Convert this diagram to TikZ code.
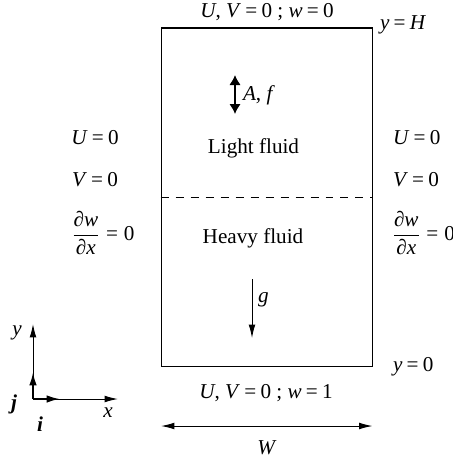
\documentclass[tikz,border=0pt]{standalone}
\usepackage{fontspec}
\setmainfont{Liberation Serif}
\usetikzlibrary{arrows.meta, positioning}
\newcommand{\mi}[1]{\textit{#1}}
\newcommand{\eqsp}{\hspace{0.2em}=\hspace{0.2em}}
\newcommand{\eqz}{\eqsp 0}
\newcommand{\dwdx}{$\displaystyle\frac{\mbox{\mi{∂w}}}{\mbox{\mi{∂x}}}$\;=\;0}
\tikzstyle{txt} = [font=\fontsize{12.7}{15}\selectfont, inner sep=1pt]
\tikzstyle{tank} = [rectangle, draw=black, line width=0.9pt, minimum width=126.9pt, minimum height=203.1pt, inner sep=0pt]
\tikzstyle{line} = [draw, line width=0.6pt, -{Latex[length=8pt, width=4pt]}]
\tikzstyle{unitvec} = [draw, line width=1.2pt, -{Latex[length=8pt, width=4.5pt]}]

\begin{document}
\begin{tikzpicture}[x=0.6pt, y=-0.6pt]
\useasboundingbox (0,0) rectangle (453,462);

% Tank
\node (tank) [tank] at (267,197.3) {};
\draw [line width=0.6pt, dash pattern=on 4.8pt off 4.2pt] (tank.west) -- (tank.east);

% Top and bottom walls
\node (topbc) [txt] at (267,12) {\mi{U}, \mi{V}\eqz\ ; \mi{w}\eqz};
\node (yH) [txt, anchor=west] at (378,25) {\mi{y}\eqsp\mi{H}};
\node (botbc) [txt] at (266,393) {\mi{U}, \mi{V}\eqz\ ; \mi{w}\eqsp 1};
\node (y0) [txt, anchor=west] at (391,367) {\mi{y}\eqz};

% Fluids
\node (light) [txt] at (253.5,148) {Light fluid};
\node (heavy) [txt] at (253,238) {Heavy fluid};

% Forcing
\coordinate (forcetop) at (235,75);
\coordinate (forcebot) at (235,114);
\draw [line width=1.5pt, {Latex[length=6pt, width=7pt]}-{Latex[length=6pt, width=7pt]}] (forcetop) -- (forcebot);
\node (forcing) [txt, anchor=west] at (241,95) {\mi{A}, \mi{f}};

% Gravity
\coordinate (gtop) at (252,279);
\coordinate (gbot) at (252,338);
\draw [line] (gtop) -- (gbot);
\node (grav) [txt, anchor=west] at (256,300) {\mi{g}};

% Side walls
\node (uleft) [txt] at (95,138) {\mi{U}\eqz};
\node (vleft) [txt] at (95,180) {\mi{V}\eqz};
\node (wleft) [txt] at (103,233) {\dwdx};
\node (uright) [txt, anchor=west] at (391,138) {\mi{U}\eqz};
\node (vright) [txt, anchor=west] at (391,180) {\mi{V}\eqz};
\node (wright) [txt, anchor=west] at (390,233) {\dwdx};

% Width
\coordinate (wl) at (161,426);
\coordinate (wr) at (372.5,426);
\draw [line, {Latex[length=8pt, width=4pt]}-{Latex[length=8pt, width=4pt]}] (wl) -- (wr);
\node (width) [txt] at (267,448) {\mi{W}};

% Axes
\coordinate (origin) at (33,399);
\coordinate (xend) at (118,399);
\coordinate (yend) at (33,324);
\coordinate (iend) at (60,399);
\coordinate (jend) at (33,372);
\draw [line] (origin) -- (xend);
\draw [line] (origin) -- (yend);
\draw [unitvec] (origin) -- (iend);
\draw [unitvec] (origin) -- (jend);
\node (xlab) [txt] at (108,413) {\mi{x}};
\node (ylab) [txt] at (17,333) {\mi{y}};
\node (ilab) [txt] at (40,424) {\textbf{\textit{i}}};
\node (jlab) [txt] at (14,404) {\textbf{\textit{j}}};

\end{tikzpicture}
\end{document}
